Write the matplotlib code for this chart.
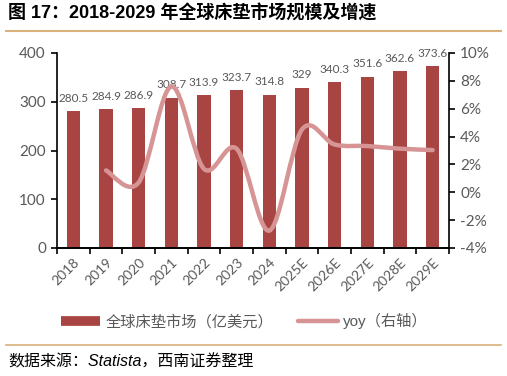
import matplotlib
matplotlib.use("Agg")
import matplotlib.pyplot as plt
from matplotlib.path import Path
from matplotlib.patches import PathPatch
from matplotlib.lines import Line2D
from matplotlib.ticker import FuncFormatter, FixedLocator
import numpy as np

years = ['2018', '2019', '2020', '2021', '2022', '2023', '2024',
         '2025E', '2026E', '2027E', '2028E', '2029E']
market = [280.5, 284.9, 286.9, 308.7, 313.9, 323.7, 314.8,
          329, 340.3, 351.6, 362.6, 373.6]
# yoy，从2019开始
yoy = [1.57, 0.70, 7.60, 1.68, 3.12, -2.75, 4.51, 3.43, 3.32, 3.13, 3.03]

BAR_C = '#A84442'
LINE_C = '#D69594'
GRAY = '#595959'
GOLD = '#D8B27A'
CJK = ['Liberation Sans', 'Noto Sans CJK SC']
NUM = ['Lato', 'Noto Sans CJK SC']

plt.rcParams['font.family'] = NUM

fig = plt.figure(figsize=(5.07, 3.76), dpi=100)
ax = fig.add_axes([57 / 507, 1 - 248 / 376, (449 - 57) / 507, (248 - 53) / 376])
ax2 = ax.twinx()

x = np.arange(len(years))
ax.bar(x, market, width=0.4, color=BAR_C, zorder=2)
for xi, v in zip(x, market):
    ax.text(xi, v + 15, f'{v:g}', ha='center', va='bottom', fontsize=8.5, color=GRAY)

# 平滑曲线（类似Excel平滑线）
xs = x[1:]
pts = np.column_stack([xs, yoy])
verts = [tuple(pts[0])]
codes = [Path.MOVETO]
n = len(pts)
for i in range(n - 1):
    p0 = pts[max(i - 1, 0)]
    p1 = pts[i]
    p2 = pts[i + 1]
    p3 = pts[min(i + 2, n - 1)]
    c1 = p1 + (p2 - p0) / 6
    c2 = p2 - (p3 - p1) / 6
    verts += [tuple(c1), tuple(c2), tuple(p2)]
    codes += [Path.CURVE4] * 3
ax2.add_patch(PathPatch(Path(verts, codes), fill=False, edgecolor=LINE_C,
                        lw=3.2, capstyle='round', zorder=3))

ax.set_xlim(-0.5, 11.5)
ax.set_ylim(0, 400)
ax.set_yticks([0, 100, 200, 300, 400])
ax2.set_ylim(-4, 10)
ax2.set_yticks(range(-4, 11, 2))
ax2.yaxis.set_major_formatter(FuncFormatter(lambda v, p: f'{v:.0f}%'))

ax.set_xticks(x)
ax.set_xticklabels(years, rotation=45, ha='right', rotation_mode='anchor',
                   fontsize=10, color=GRAY)
ax.xaxis.set_minor_locator(FixedLocator(np.arange(-0.5, 12, 1)))
ax.tick_params(axis='x', which='major', length=0, pad=6)
ax.tick_params(axis='x', which='minor', length=4, width=1.2, direction='out')
ax.tick_params(axis='y', length=4, width=1.2, labelsize=11, labelcolor=GRAY, pad=4)
ax2.tick_params(axis='y', length=4, width=1.2, labelsize=11, labelcolor=GRAY, pad=4)

for a in (ax, ax2):
    a.spines['top'].set_visible(False)
    for s in ('left', 'right', 'bottom'):
        a.spines[s].set_linewidth(1.2)
ax.spines['right'].set_visible(False)
ax2.spines['left'].set_visible(False)

# 图例
handles = [Line2D([], [], color=BAR_C, lw=7, solid_capstyle='butt'),
           Line2D([], [], color=LINE_C, lw=3.2, solid_capstyle='round')]
fig.legend(handles, ['全球床垫市场（亿美元）', 'yoy（右轴）'],
           loc='center', bbox_to_anchor=(244 / 507, 1 - 321 / 376), ncol=2, frameon=False,
           handlelength=2.6, columnspacing=1.6, handletextpad=0.35,
           prop={'family': CJK, 'size': 11}, labelcolor=GRAY)

# 标题与来源
fig.text(8 / 507, 1 - 14 / 376, '图 17：2018-2029 年全球床垫市场规模及增速',
         ha='left', va='center', fontsize=13, fontweight='bold', family=CJK)
fig.add_artist(Line2D([6 / 507, 501 / 507], [1 - 31 / 376] * 2, color=GOLD, lw=1.5))
fig.add_artist(Line2D([6 / 507, 501 / 507], [1 - 345 / 376] * 2, color=GOLD, lw=1.2))
fig.text(8 / 507, 1 - 362 / 376, '数据来源：Statista，西南证券整理',
         ha='left', va='center', fontsize=11.5, style='italic', family=CJK)

fig.savefig('out.png', dpi=100)
